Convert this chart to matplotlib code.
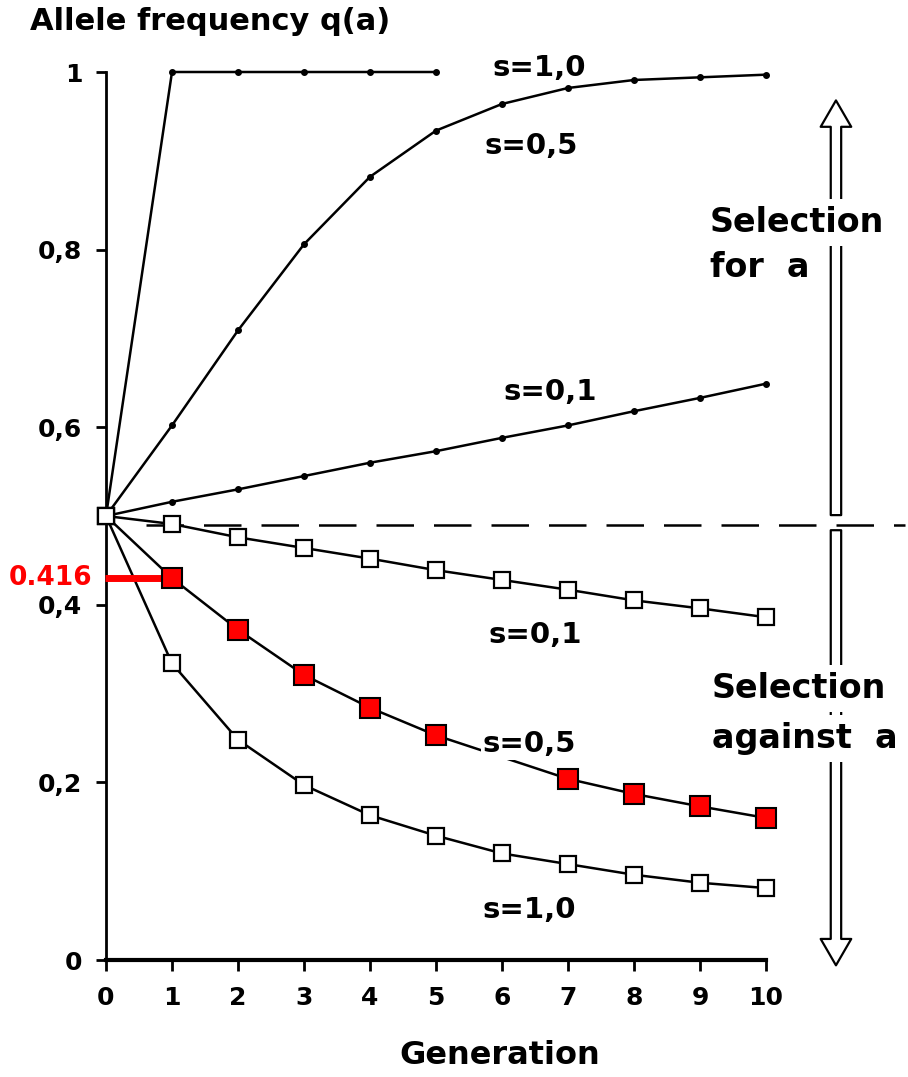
import numpy as np
import matplotlib
matplotlib.use('Agg')
import matplotlib.pyplot as plt
from matplotlib.patches import FancyArrowPatch

plt.rcParams['font.family'] = ['DejaVu Sans']
plt.rcParams['font.weight'] = 'bold'

# 选择对等位基因a频率的影响 (读图得到的数值)
gen_up_s10 = [0, 1, 2, 3, 4, 5]
q_up_s10 = [0.5, 1.0, 1.0, 1.0, 1.0, 1.0]

gen_all = [0, 1, 2, 3, 4, 5, 6, 7, 8, 9, 10]
q_up_s05 = [0.5, 0.602, 0.709, 0.806, 0.882, 0.934, 0.964, 0.982, 0.991, 0.994, 0.997]
q_up_s01 = [0.5, 0.516, 0.530, 0.545, 0.560, 0.573, 0.588, 0.602, 0.618, 0.633, 0.649]

q_down_s01 = [0.5, 0.491, 0.476, 0.464, 0.452, 0.439, 0.428, 0.417, 0.405, 0.396, 0.386]
q_down_s10 = [0.5, 0.334, 0.248, 0.197, 0.163, 0.140, 0.120, 0.108, 0.096, 0.087, 0.081]

# s=0.5 (反向选择), 第6代的点被标签遮住
gen_down_s05 = [0, 1, 2, 3, 4, 5, 7, 8, 9, 10]
q_down_s05 = [0.5, 0.430, 0.372, 0.321, 0.284, 0.253, 0.204, 0.187, 0.173, 0.160]

neutral_q = 0.49
highlight_text = '0.416'

y_ticks = [0, 0.2, 0.4, 0.6, 0.8, 1]
y_tick_labels = ['0', '0,2', '0,4', '0,6', '0,8', '1']
x_ticks = list(range(11))

W, H = 908, 1077
fig = plt.figure(figsize=(W / 100, H / 100), dpi=100)
ax = fig.add_axes([106 / W, 117 / H, 660 / W, 888 / H])
ax.set_xlim(0, 10)
ax.set_ylim(0, 1)

for s in ['top', 'right']:
    ax.spines[s].set_visible(False)
ax.spines['left'].set_linewidth(2)
ax.spines['bottom'].set_linewidth(3)

ax.set_xticks(x_ticks)
ax.set_xticklabels([str(t) for t in x_ticks])
ax.set_yticks(y_ticks)
ax.set_yticklabels(y_tick_labels)
ax.tick_params(axis='x', length=8, width=2, pad=11, labelsize=18)
ax.tick_params(axis='y', length=7, width=2, pad=10, labelsize=18)

lw = 1.8
# 正向选择: 小黑点
dot = dict(color='black', lw=lw, marker='o', markersize=4, clip_on=False)
ax.plot(gen_up_s10, q_up_s10, **dot)
ax.plot(gen_all, q_up_s05, **dot)
ax.plot(gen_all, q_up_s01, **dot)

# 反向选择: 空心方块
sq = dict(color='black', lw=lw, marker='s', markersize=11, markerfacecolor='white',
          markeredgecolor='black', markeredgewidth=1.6, clip_on=False)
ax.plot(gen_all, q_down_s01, **sq)
ax.plot(gen_all, q_down_s10, **sq)

# s=0.5 红色实心方块
ax.plot(gen_down_s05, q_down_s05, color='black', lw=lw, zorder=2)
ax.plot(gen_down_s05[1:], q_down_s05[1:], ls='none', marker='s', markersize=15,
        markerfacecolor='#ff0000', markeredgecolor='black', markeredgewidth=1.5, zorder=4,
        clip_on=False)
ax.plot(gen_down_s05[0], q_down_s05[0], ls='none', marker='s', markersize=11,
        markerfacecolor='white', markeredgecolor='black', markeredgewidth=1.6, zorder=4,
        clip_on=False)

# 中性线 (虚线)
ax.plot([0.6, 12.1], [neutral_q, neutral_q], color='black', lw=1.8,
        dashes=(15, 8), clip_on=False, zorder=1)

# 红色标注
ax.plot([-0.02, 0.85], [q_down_s05[1], q_down_s05[1]], color='#ff0000', lw=5,
        clip_on=False, solid_capstyle='butt', zorder=3)
ax.text(-0.2, q_down_s05[1], highlight_text, color='#ff0000', fontsize=19,
        fontweight='bold', ha='right', va='center')

# 曲线标签
lab = dict(fontsize=21, ha='left', va='center')
ax.text(5.86, 1.004, 's=1,0', **lab)
ax.text(5.74, 0.917, 's=0,5', **lab)
ax.text(6.02, 0.640, 's=0,1', **lab)
ax.text(5.79, 0.366, 's=0,1', **lab)
ax.text(5.71, 0.243, 's=0,5', bbox=dict(facecolor='white', edgecolor='none', pad=1), **lab)
ax.text(5.71, 0.056, 's=1,0', **lab)

# 右侧双线箭头
arrow_x = 11.06
arr = dict(arrowstyle='simple,head_width=2.2,head_length=1.9,tail_width=0.75',
           mutation_scale=10, facecolor='white', edgecolor='black', lw=1.6,
           shrinkA=0, shrinkB=0, clip_on=False, zorder=1)
ax.add_patch(FancyArrowPatch((arrow_x, 0.501), (arrow_x, 0.968), **arr))
ax.add_patch(FancyArrowPatch((arrow_x, 0.484), (arrow_x, -0.006), **arr))

box = dict(facecolor='white', edgecolor='none', pad=5)
sel = dict(fontsize=24, ha='left', va='center', zorder=5)
ax.text(9.15, 0.831, 'Selection', bbox=box, **sel)
ax.text(9.15, 0.780, 'for  a', **sel)
ax.text(9.18, 0.306, 'Selection', bbox=box, **sel)
ax.text(9.18, 0.249, 'against  a', bbox=box, **sel)

fig.text(30 / W, 1 - 22 / H, 'Allele frequency q(a)', fontsize=22, ha='left', va='center')
fig.text(500 / W, 1 - 1055 / H, 'Generation', fontsize=23, ha='center', va='center')

fig.savefig('out.png', dpi=100)
